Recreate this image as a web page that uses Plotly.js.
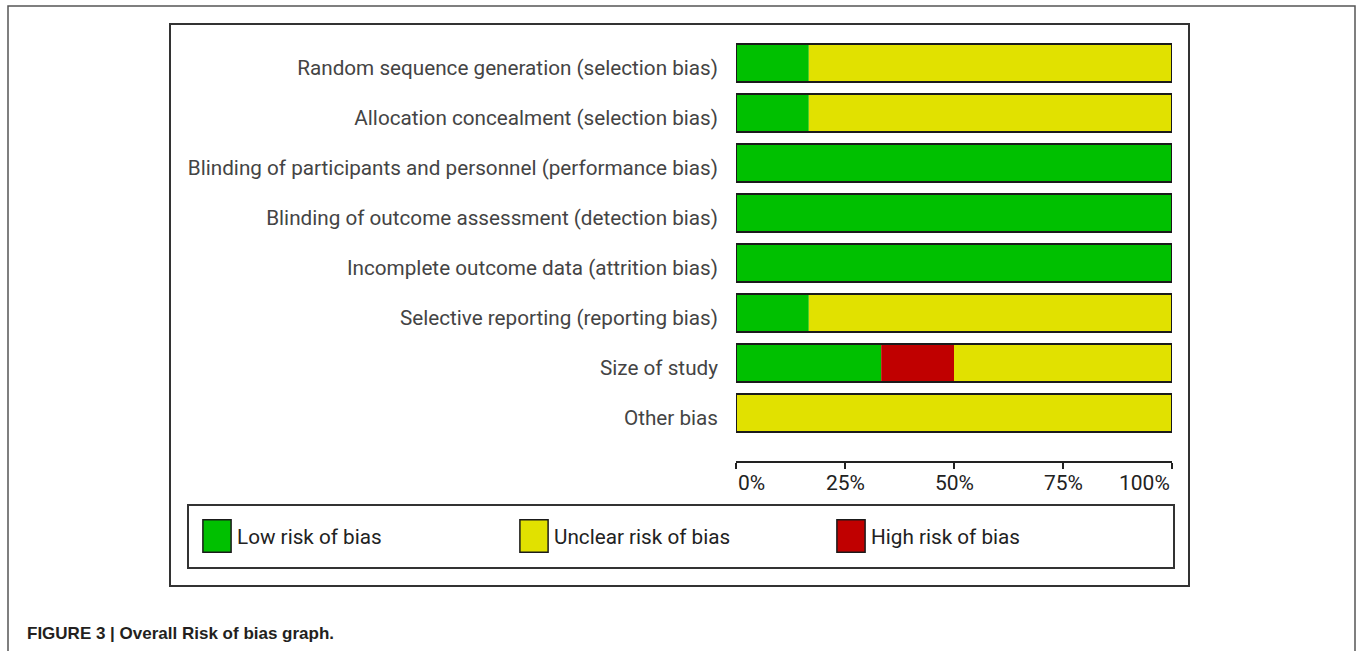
<!DOCTYPE html>
<html><head><meta charset="utf-8">
<script src="https://cdn.plot.ly/plotly-3.0.1.min.js"></script>
<style>
html,body{margin:0;padding:0;background:#fff;overflow:hidden}
#chart{width:1357px;height:651px}
g.legendpoints path{transform:translate(20px,0px) scale(2.35,2.7);vector-effect:non-scaling-stroke}
</style>
</head><body><div id="chart"></div>
<script>
const categories = [
  "Random sequence generation (selection bias)",
  "Allocation concealment (selection bias)",
  "Blinding of participants and personnel (performance bias)",
  "Blinding of outcome assessment (detection bias)",
  "Incomplete outcome data (attrition bias)",
  "Selective reporting (reporting bias)",
  "Size of study",
  "Other bias"
];
const lowRisk     = [16.7, 16.7, 100, 100, 100, 16.7, 33.3, 0];
const unclearRisk = [83.3, 83.3, 0, 0, 0, 83.3, 50, 100];
const highRisk    = [0, 0, 0, 0, 0, 0, 16.7, 0];
const seriesNames = ["Low risk of bias", "Unclear risk of bias", "High risk of bias"];
const seriesColors = ["#00c000", "#e1e100", "#c00000"];
const tickVals = [0, 25, 50, 75, 100];
const tickText = ["0%", "25%", "50%", "75%", "100%"];
const caption = "FIGURE 3 | Overall Risk of bias graph.";

// plot-area geometry (pixels)
const L = 736, R = 1172, T = 38, B = 461;
const W = R - L, H = B - T;
const px = x => (x - L) / W;
const py = y => (B - y) / H;

const baseHigh = lowRisk.map(v => v);
const baseUnclear = lowRisk.map((v, i) => v + highRisk[i]);
const totals = lowRisk.map((v, i) => v + highRisk[i] + unclearRisk[i]);

const segCommon = {type: 'bar', orientation: 'h', y: categories, showlegend: false, hoverinfo: 'skip'};

const traces = [
  Object.assign({}, segCommon, {name: seriesNames[0], x: lowRisk, base: 0,
    marker: {color: seriesColors[0], line: {width: 0}}}),
  Object.assign({}, segCommon, {name: seriesNames[2], x: highRisk, base: baseHigh,
    marker: {color: seriesColors[2], line: {width: 0}}}),
  Object.assign({}, segCommon, {name: seriesNames[1], x: unclearRisk, base: baseUnclear,
    marker: {color: seriesColors[1], line: {width: 0}}}),
  Object.assign({}, segCommon, {name: 'outline', x: totals, base: 0,
    marker: {color: 'rgba(0,0,0,0)', line: {width: 2, color: '#1a1a1a'}}})
];
// legend-only entries
seriesNames.forEach((n, i) => {
  traces.push({type: 'bar', orientation: 'h', name: n, x: [null], y: [categories[0]],
    marker: {color: seriesColors[i], line: {width: 1.5, color: '#1a1a1a'}},
    showlegend: true, hoverinfo: 'skip'});
});

const annotations = tickVals.map((v, i) => ({
  x: v, xref: 'x', y: py(483), yref: 'paper', yanchor: 'middle',
  xanchor: i === 0 ? 'left' : (i === tickVals.length - 1 ? 'right' : 'center'),
  text: tickText[i], showarrow: false,
  font: {family: 'Roboto', size: 21, color: '#222'}
}));
annotations.push({
  x: px(25), xref: 'paper', y: py(633), yref: 'paper', xanchor: 'left', yanchor: 'middle',
  text: '<b>' + caption + '</b>', showarrow: false,
  font: {family: 'Liberation Sans, Arial, sans-serif', size: 17, color: '#231f20'}
});

const frameLine = {color: '#333', width: 2};
const shapes = [
  {type: 'rect', xref: 'paper', yref: 'paper', x0: px(8), x1: px(1355), y0: py(6), y1: py(670),
   line: {color: '#555', width: 1.5}},
  {type: 'rect', xref: 'paper', yref: 'paper', x0: px(170), x1: px(1189), y0: py(24), y1: py(586),
   line: frameLine},
  {type: 'rect', xref: 'paper', yref: 'paper', x0: px(188), x1: px(1174), y0: py(505), y1: py(568),
   line: frameLine}
];

const layout = {
  width: 1357, height: 651,
  margin: {l: L, r: 1357 - R, t: T, b: 651 - B, pad: 0},
  paper_bgcolor: '#fff', plot_bgcolor: '#fff',
  barmode: 'overlay', bargap: 0.24,
  showlegend: true,
  legend: {orientation: 'h', x: px(197), xanchor: 'left', y: py(536), yanchor: 'middle',
    entrywidth: 272, borderwidth: 0, bgcolor: 'rgba(0,0,0,0)', traceorder: 'normal',
    font: {family: 'Roboto', size: 20.7, color: '#222'}},
  xaxis: {range: [0, 100], autorange: false, fixedrange: true, showgrid: false, zeroline: false,
    showline: true, linecolor: '#222', linewidth: 2,
    tickmode: 'array', tickvals: tickVals, ticks: 'outside', ticklen: 6, tickwidth: 2, tickcolor: '#222',
    showticklabels: false},
  xaxis2: {overlaying: 'x', matches: 'x', anchor: 'y', side: 'bottom', range: [0, 100],
    showgrid: false, zeroline: false, showline: false,
    tickmode: 'array', tickvals: tickVals, ticks: 'inside', ticklen: 8, tickwidth: 2, tickcolor: '#222',
    showticklabels: false},
  yaxis: {type: 'category', categoryorder: 'array', categoryarray: categories,
    range: [7.96, -0.5], autorange: false, fixedrange: true, showgrid: false, zeroline: false,
    showline: false, ticks: '', ticklabelstandoff: 17, ticklabelshift: -5,
    tickfont: {family: 'Roboto', size: 20.7, color: '#444'}},
  annotations: annotations,
  shapes: shapes
};

Plotly.newPlot('chart', traces, layout, {displayModeBar: false, staticPlot: true});
</script></body></html>
